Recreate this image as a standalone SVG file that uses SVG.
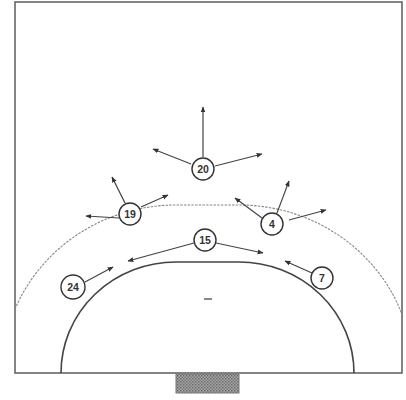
<svg xmlns="http://www.w3.org/2000/svg" width="406" height="400" viewBox="0 0 406 400">
<defs>
<style>
.court{fill:none;stroke:#666;stroke-width:1.6}
.six{fill:none;stroke:#444;stroke-width:1.6}
.nine{fill:none;stroke:#888;stroke-width:1.1;stroke-dasharray:2.5 1.2}
.p circle{fill:#fff;stroke:#333;stroke-width:1.4}
.p text{font-family:"Liberation Sans",Arial,sans-serif;font-size:10.5px;font-weight:bold;fill:#333;text-anchor:middle}
.c line{stroke:#444;stroke-width:1.2;marker-end:url(#ah)}
</style>
<marker id="ah" viewBox="0 0 10 10" refX="9" refY="5" markerWidth="6" markerHeight="6" orient="auto" markerUnits="userSpaceOnUse">
<path d="M0,1 L10,5 L0,9 Z" fill="#333"/>
</marker>
<pattern id="hatch" width="3" height="3" patternUnits="userSpaceOnUse">
<rect width="3" height="3" fill="#aaa"/>
<rect width="1.5" height="1.5" fill="#666"/>
<rect x="1.5" y="1.5" width="1.5" height="1.5" fill="#777"/>
</pattern>
</defs>
<rect width="406" height="400" fill="#fff"/>
<g id="court">
<rect class="court" x="15" y="2" width="387" height="371"/>
<path class="six" d="M61,373 A115,111 0 0 1 176,262 L239,262 A115,111 0 0 1 354,373"/>
<path class="nine" d="M15,309.3 A174,168 0 0 1 176,205 L239,205 A174,168 0 0 1 402,314.2"/>
<line x1="204" y1="299" x2="212" y2="299" stroke="#555" stroke-width="1.4"/>
<rect x="176" y="374" width="63" height="19" fill="url(#hatch)" stroke="#777" stroke-width="1"/>
</g>
<g id="connectors" class="c">
<line x1="203" y1="157" x2="203" y2="107"/>
<line x1="191" y1="164" x2="153" y2="149"/>
<line x1="215" y1="166" x2="262" y2="154"/>
<line x1="125" y1="203" x2="112" y2="177"/>
<line x1="141" y1="207" x2="168" y2="195"/>
<line x1="119" y1="218" x2="86" y2="216"/>
<line x1="277" y1="213" x2="289" y2="181"/>
<line x1="262" y1="218" x2="235" y2="198"/>
<line x1="289" y1="220" x2="326" y2="210"/>
<line x1="194" y1="243" x2="128" y2="261"/>
<line x1="216" y1="243" x2="263" y2="253"/>
<line x1="312" y1="273" x2="285" y2="261"/>
<line x1="85" y1="282" x2="113" y2="267"/>
</g>
<g id="n20" class="p"><circle cx="203" cy="169" r="11"/><text x="203" y="172.5">20</text></g>
<g id="n19" class="p"><circle cx="130" cy="214" r="11"/><text x="130" y="217.5">19</text></g>
<g id="n4" class="p"><circle cx="272" cy="224" r="11"/><text x="272" y="227.5">4</text></g>
<g id="n15" class="p"><circle cx="205" cy="240" r="11"/><text x="205" y="243.5">15</text></g>
<g id="n7" class="p"><circle cx="322" cy="278" r="11"/><text x="322" y="281.5">7</text></g>
<g id="n24" class="p"><circle cx="73" cy="287" r="12"/><text x="73" y="290.5">24</text></g>
</svg>
